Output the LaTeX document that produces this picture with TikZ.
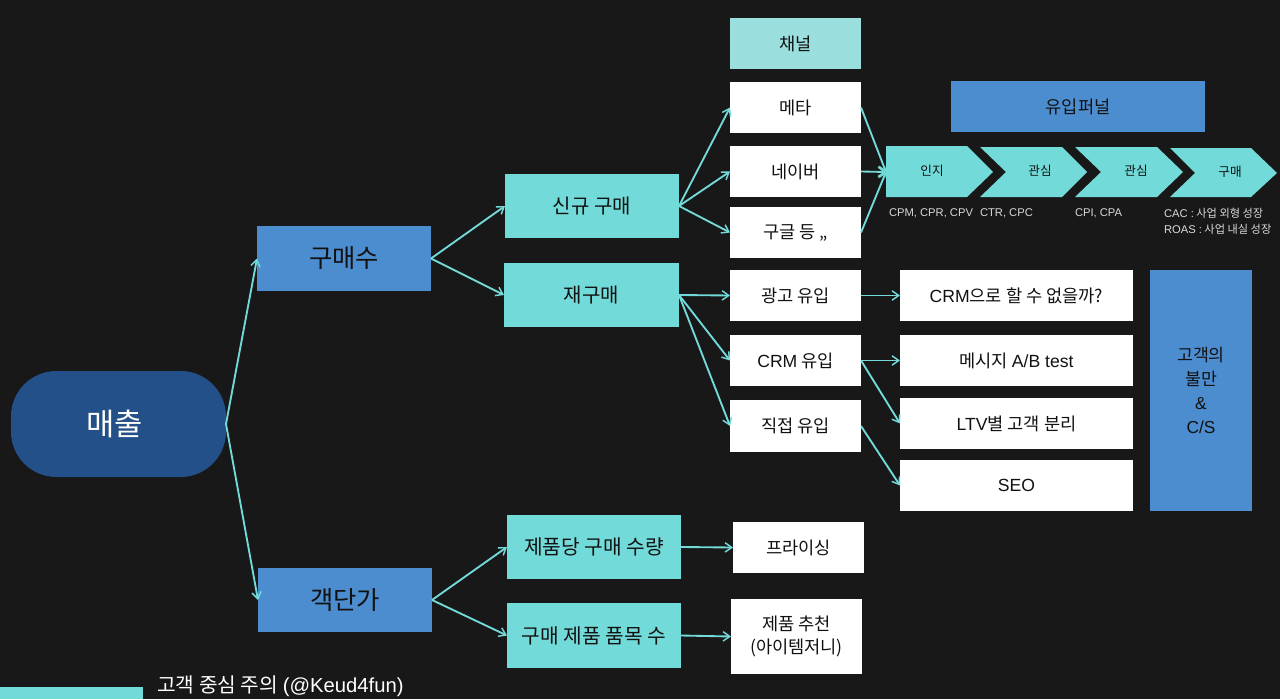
\documentclass[tikz,border=0pt]{standalone}
\usepackage{fontspec}
\usetikzlibrary{arrows.meta}
\setmainfont{Noto Sans CJK KR}
\newfontfamily\latinfnt{Liberation Sans}
\newcommand{\la}[1]{{\latinfnt #1}}
\definecolor{bgc}{HTML}{181818}
\definecolor{teal}{HTML}{72DAD8}
\definecolor{tealb}{HTML}{9ADFDE}
\definecolor{blu}{HTML}{4C8DCF}
\definecolor{navy}{HTML}{24508A}
\definecolor{ink}{HTML}{111111}
\tikzset{
  x=0.75pt,y=-0.75pt,
  fs/.style={font=\fontsize{#1}{#1}\selectfont},
  base/.style={inner sep=0pt,outer sep=0pt,align=center,text=ink},
  whitebox/.style={base,fill=white,fs=13.2pt},
  tealbox/.style={base,fill=teal,fs=15pt},
  bluebox/.style={base,fill=blu,fs=19pt},
  link/.style={draw=teal,line width=1.4pt,-{Straight Barb[length=5pt,width=7pt,line width=1.1pt]}},
  chev/.style={fill=teal},
  captxt/.style={inner sep=0pt,outer sep=0pt,anchor=west,text=white!85!black,fs=8.4pt},
}
\newcommand{\bx}[7]{\node[#1,minimum width=#5*0.75pt-#3*0.75pt,minimum height=#6*0.75pt-#4*0.75pt] (#2) at ({(#3+#5)/2},{(#4+#6)/2}) {#7};}
\begin{document}
\begin{tikzpicture}
\fill[bgc] (0,0) rectangle (1280,699);
\useasboundingbox (0,0) rectangle (1280,699);
% root
\bx{base,fill=navy,rounded corners=34pt,text=white,fs=23pt}{rev}{11}{371}{226}{477}{\hspace*{-6pt}매출}
\bx{bluebox}{cnt}{257}{226}{431}{291}{구매수}
\bx{bluebox}{aov}{258}{568}{432}{632}{객단가}
\bx{tealbox}{newb}{505}{174}{679}{238}{신규 구매}
\bx{tealbox}{reb}{504}{263}{679}{327}{재구매}
\bx{tealbox,fs=15.2pt}{qty}{507}{515}{681}{579}{제품당 구매 수량}
\bx{tealbox,fs=15.2pt}{kinds}{507}{603}{681}{668}{구매 제품 품목 수}
% channels
\bx{whitebox,fill=tealb}{chan}{730}{18}{861}{69}{채널}
\bx{whitebox}{meta}{730}{82}{861}{133}{메타}
\bx{whitebox}{naver}{730}{146}{861}{197}{네이버}
\bx{whitebox}{google}{730}{207}{861}{258}{구글 등 ,,}
\bx{whitebox}{ad}{730}{270}{861}{321}{광고 유입}
\bx{whitebox}{crm}{730}{335}{861}{386}{\la{CRM} 유입}
\bx{whitebox}{direct}{730}{400}{861}{452}{직접 유입}
\bx{whitebox}{price}{733}{522}{864}{573}{프라이싱}
\bx{whitebox}{reco}{731}{599}{862}{674}{제품 추천\\[4pt](아이템저니)}
% right column
\bx{whitebox}{crmq}{900}{270}{1133}{321}{\la{CRM}으로 할 수 없을까?}
\bx{whitebox}{msg}{900}{335}{1133}{386}{메시지 \la{A/B test}}
\bx{whitebox}{ltv}{900}{398}{1133}{449}{\la{LTV}별 고객 분리}
\bx{whitebox}{seo}{900}{460}{1133}{511}{\la{SEO}}
\bx{base,fill=blu,fs=13pt}{cs}{1150}{270}{1252}{511}{고객의\\[5pt]불만\\[5pt]\la{\&}\\[5pt]\la{C/S}}
\bx{base,fill=blu,fs=13.2pt}{funnel}{951}{81}{1205}{132}{유입퍼널}
% funnel chevrons
\fill[chev] (886,146) -- (967,146) -- (993,172) -- (967,197) -- (886,197) -- cycle;
\fill[chev] (980,147) -- (1062,147) -- (1087,172) -- (1062,197) -- (980,197) -- (1006,172) -- cycle;
\fill[chev] (1075,147) -- (1157,147) -- (1183,172) -- (1157,197) -- (1075,197) -- (1101,172) -- cycle;
\fill[chev] (1170,148) -- (1251,148) -- (1277,173) -- (1251,197) -- (1170,197) -- (1195,173) -- cycle;
\coordinate (fin) at (886,172);
\node[base,fs=9.5pt] (f1) at (932,171) {인지};
\node[base,fs=9.5pt] (f2) at (1040,171) {관심};
\node[base,fs=9.5pt] (f3) at (1136,171) {관심};
\node[base,fs=9.5pt] (f4) at (1230,172) {구매};
\node[captxt] (c1) at (889,213) {\la{CPM, CPR, CPV}};
\node[captxt] (c2) at (980,213) {\la{CTR, CPC}};
\node[captxt] (c3) at (1075,213) {\la{CPI, CPA}};
\node[captxt] (c4) at (1164,213) {\la{CAC :} 사업 외형 성장};
\node[captxt] (c5) at (1164,229) {\la{ROAS :} 사업 내실 성장};
% connectors
\draw[link] (rev.east) -- (cnt.west);
\draw[link] (rev.east) -- (aov.west);
\draw[link] (cnt.east) -- (newb.west);
\draw[link] (cnt.east) -- (reb.west);
\draw[link] (aov.east) -- (qty.west);
\draw[link] (aov.east) -- (kinds.west);
\draw[link] (newb.east) -- (meta.west);
\draw[link] (newb.east) -- (naver.west);
\draw[link] (newb.east) -- (google.west);
\draw[link] (reb.east) -- (ad.west);
\draw[link] (reb.east) -- (crm.west);
\draw[link] (reb.east) -- (direct.west);
\draw[link] (meta.east) -- (fin);
\draw[link] (naver.east) -- (fin);
\draw[link] (google.east) -- (fin);
\draw[link] (ad.east) -- (crmq.west);
\draw[link] (crm.east) -- (msg.west);
\draw[link] (crm.east) -- (ltv.west);
\draw[link] (direct.east) -- (seo.west);
\draw[link] (qty.east) -- (price.west);
\draw[link] (kinds.east) -- (reco.west);
% footer
\fill[teal] (0,687) rectangle (143,699);
\node[inner sep=0pt,anchor=west,text=white,fs=15.2pt] (credit) at (157,686) {고객 중심 주의 \la{(@Keud4fun)}};
\end{tikzpicture}
\end{document}
